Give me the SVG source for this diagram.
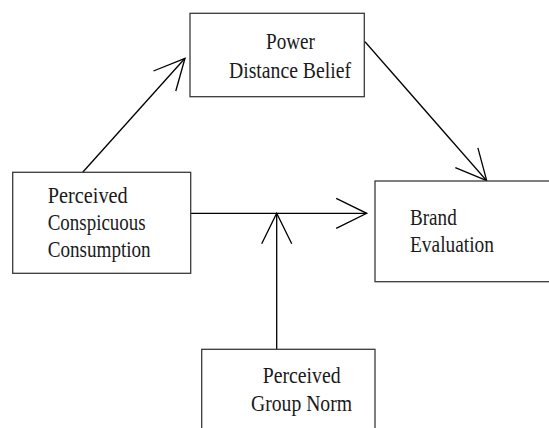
<svg xmlns="http://www.w3.org/2000/svg" width="549" height="428" viewBox="0 0 549 428">
<style>
.box{fill:#fff;stroke:#3a3a3a;stroke-width:1.3}
.lbl{font-family:"Liberation Serif","Times New Roman",serif;font-size:23.5px;fill:#1a1a1a}
.conn{fill:none;stroke:#000;stroke-width:1.3}
</style>
<defs>
<marker id="ah" markerUnits="userSpaceOnUse" markerWidth="40" markerHeight="40" refX="0" refY="0" orient="auto" overflow="visible">
<path d="M-30.5,-15 L0,0 L-30.5,15" fill="none" stroke="#000" stroke-width="1.3"/>
</marker>
</defs>
<rect width="549" height="428" fill="#fff"/>
<g id="connectors">
<line class="conn" x1="82.7" y1="172.3" x2="185" y2="58.3" marker-end="url(#ah)"/>
<line class="conn" x1="365" y1="41.7" x2="486.7" y2="180.7" marker-end="url(#ah)"/>
<line class="conn" x1="190.7" y1="213.3" x2="366.7" y2="213.3" marker-end="url(#ah)"/>
<line class="conn" x1="276.7" y1="349.3" x2="276.7" y2="213.3" marker-end="url(#ah)"/>
</g>
<g id="node-pdb">
<rect class="box" x="190" y="13.3" width="174.3" height="83.4"/>
<text class="lbl" x="266" y="48.5" textLength="49" lengthAdjust="spacingAndGlyphs">Power</text>
<text class="lbl" x="229" y="77.5" textLength="122" lengthAdjust="spacingAndGlyphs">Distance Belief</text>
</g>
<g id="node-pcc">
<rect class="box" x="12.7" y="172.3" width="178" height="101"/>
<text class="lbl" x="47.7" y="202.7" textLength="80" lengthAdjust="spacingAndGlyphs">Perceived</text>
<text class="lbl" x="47.7" y="230" textLength="98" lengthAdjust="spacingAndGlyphs">Conspicuous</text>
<text class="lbl" x="47.7" y="257" textLength="103" lengthAdjust="spacingAndGlyphs">Consumption</text>
</g>
<g id="node-be">
<rect class="box" x="375" y="181" width="200" height="100.7"/>
<text class="lbl" x="410" y="225" textLength="46.7" lengthAdjust="spacingAndGlyphs">Brand</text>
<text class="lbl" x="410" y="251.7" textLength="84" lengthAdjust="spacingAndGlyphs">Evaluation</text>
</g>
<g id="node-pgn">
<rect class="box" x="201.7" y="349.3" width="173.3" height="100"/>
<text class="lbl" x="262.7" y="383.3" textLength="78" lengthAdjust="spacingAndGlyphs">Perceived</text>
<text class="lbl" x="251" y="410.5" textLength="101" lengthAdjust="spacingAndGlyphs">Group Norm</text>
</g>
</svg>
